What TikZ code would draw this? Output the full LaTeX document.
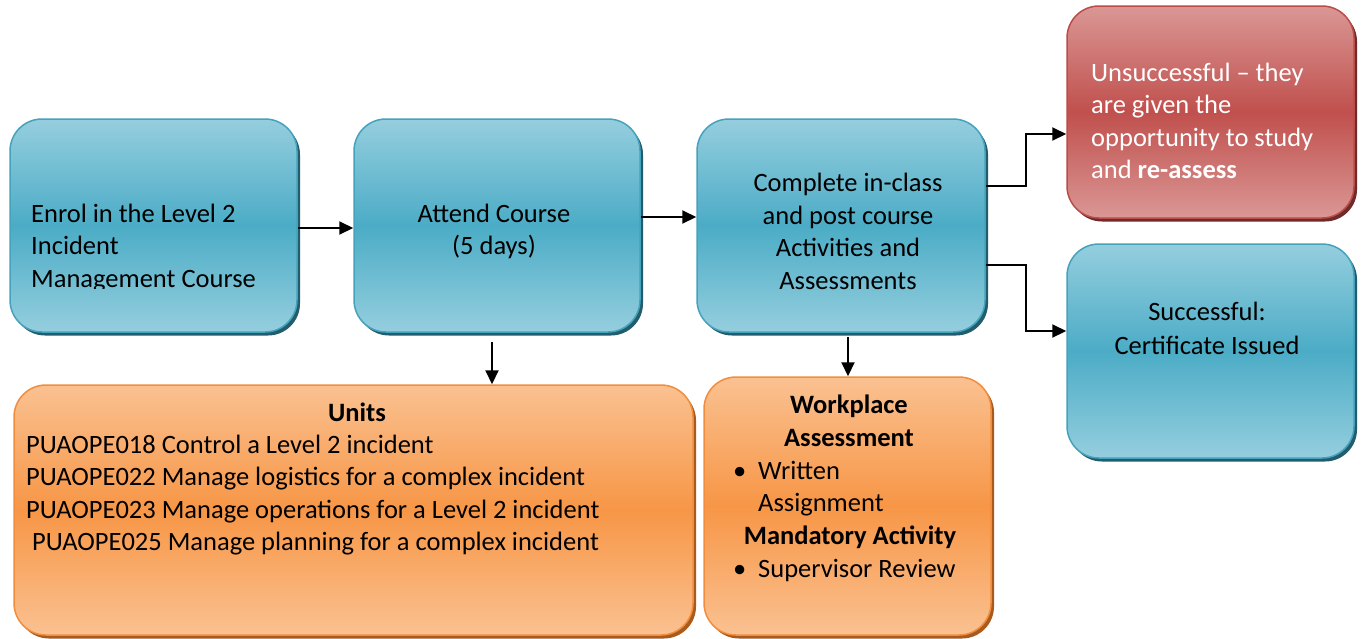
\documentclass[tikz,border=0pt]{standalone}
\usepackage{fontspec}
\setmainfont{Carlito}
\usetikzlibrary{arrows.meta,shadows,calc}

\definecolor{bluelight}{HTML}{95CEDE}
\definecolor{bluemid}{HTML}{4BACC6}
\definecolor{blueedge}{HTML}{45A2BC}
\definecolor{blueshadow}{HTML}{215D6C}
\definecolor{redlight}{HTML}{DA9795}
\definecolor{redmid}{HTML}{C0504D}
\definecolor{rededge}{HTML}{BA4C49}
\definecolor{redshadow}{HTML}{6E2B29}
\definecolor{orangelight}{HTML}{FAC191}
\definecolor{orangemid}{HTML}{F79646}
\definecolor{orangeedge}{HTML}{F18D3C}
\definecolor{orangeshadow}{HTML}{A85B1C}

\tikzset{
  box/.style={rectangle, rounded corners=32pt, line width=1.5pt, inner sep=0pt},
  bluebox/.style={box, draw=blueedge, top color=bluelight, bottom color=bluelight,
    middle color=bluemid,
    drop shadow={shadow xshift=3pt, shadow yshift=-3.5pt, fill=blueshadow, opacity=1}},
  redbox/.style={box, draw=rededge, top color=redlight, bottom color=redlight,
    middle color=redmid,
    drop shadow={shadow xshift=3pt, shadow yshift=-3.5pt, fill=redshadow, opacity=1}},
  orangebox/.style={box, draw=orangeedge, top color=orangelight, bottom color=orangelight,
    middle color=orangemid,
    drop shadow={shadow xshift=3pt, shadow yshift=-3.5pt, fill=orangeshadow, opacity=1}},
  txt/.style={inner sep=0pt, font=\fontsize{26.5}{32.5}\selectfont},
  bold/.style={txt, font=\fontsize{26.5}{32.5}\selectfont\bfseries},
  arr/.style={line width=2pt, line join=miter, -{Triangle[length=14pt,width=13pt]}}
}

\begin{document}
\begin{tikzpicture}[x=1pt, y=-1pt]
\useasboundingbox (0,0) rectangle (1362,638);

% process boxes
\node[bluebox, minimum width=287pt, minimum height=213pt] (enrol) at (153.5,225.5) {};
\node[bluebox, minimum width=286pt, minimum height=213pt] (attend) at (497,225.5) {};
\node[bluebox, minimum width=288pt, minimum height=213pt] (complete) at (841,225.5) {};
\node[redbox, minimum width=287pt, minimum height=212pt] (unsucc) at (1210.5,112) {};
\node[bluebox, minimum width=287pt, minimum height=214pt] (succ) at (1210.5,351) {};
\node[orangebox, minimum width=679pt, minimum height=250pt] (units) at (353.5,510) {};
\node[orangebox, minimum width=287pt, minimum height=258pt] (work) at (847.5,506) {};

% box texts (multi-line nodes are placed by the baseline of their last line)
\begin{scope}
  \clip (0,0) rectangle (1362,288);
  \node[txt, anchor=base west, align=left] (enroltext) at (31,287)
    {Enrol in the Level 2\\Incident\\Management Course};
\end{scope}
\node[txt, anchor=base, align=center] (attendtext) at (494,254.5)
  {Attend Course\\(5 days)};
\node[txt, anchor=base, align=center] (completetext) at (848,289)
  {Complete in-class\\and post course\\Activities and\\Assessments};
\node[txt, anchor=base west, align=left, text=white] (unsucctext) at (1091,178.5)
  {Unsuccessful – they\\are given the\\opportunity to study\\and \textbf{re-assess}};
\node[txt, anchor=base, align=center] (succtext) at (1207,354.5)
  {Successful:\\[1.5pt]Certificate Issued};

\node[bold, anchor=base] (unitstitle) at (357,421) {Units};
\node[txt, anchor=base west, align=left] (unitslist) at (26,550.5)
  {PUAOPE018 Control a Level 2 incident\\
   PUAOPE022 Manage logistics for a complex incident\\
   PUAOPE023 Manage operations for a Level 2 incident\\
   \hspace*{6pt}PUAOPE025 Manage planning for a complex incident};

\node[bold, anchor=base, align=center] (worktitle) at (849,446)
  {Workplace\\Assessment};
\node[txt, anchor=base west, align=left] (workitem) at (733,511.5)
  {\makebox[25pt][l]{•}Written\\\hspace*{25pt}Assignment};
\node[bold, anchor=base] (mandtitle) at (850,544) {Mandatory Activity};
\node[txt, anchor=base west] (manditem) at (733,577)
  {\makebox[25pt][l]{•}Supervisor Review};

% connectors
\draw[arr] ([yshift=-2.5pt]enrol.east) -- ([yshift=-2.5pt]attend.west);
\draw[arr] ([yshift=8.5pt]attend.east) -- ([yshift=8.5pt]complete.west);
\draw[arr] ([xshift=-5pt, yshift=-9pt]attend.south) -- ([xshift=-5pt]attend.south |- units.north);
\draw[arr] ([xshift=7pt, yshift=-4pt]complete.south) -- ([xshift=7pt]complete.south |- work.north);
\draw[arr] ([yshift=39.5pt]complete.east) -- ++(40,0) |- ([yshift=-22pt]unsucc.west);
\draw[arr] ([yshift=-39.5pt]complete.east) -- ++(40,0) |- ([yshift=20pt]succ.west);
\end{tikzpicture}
\end{document}
